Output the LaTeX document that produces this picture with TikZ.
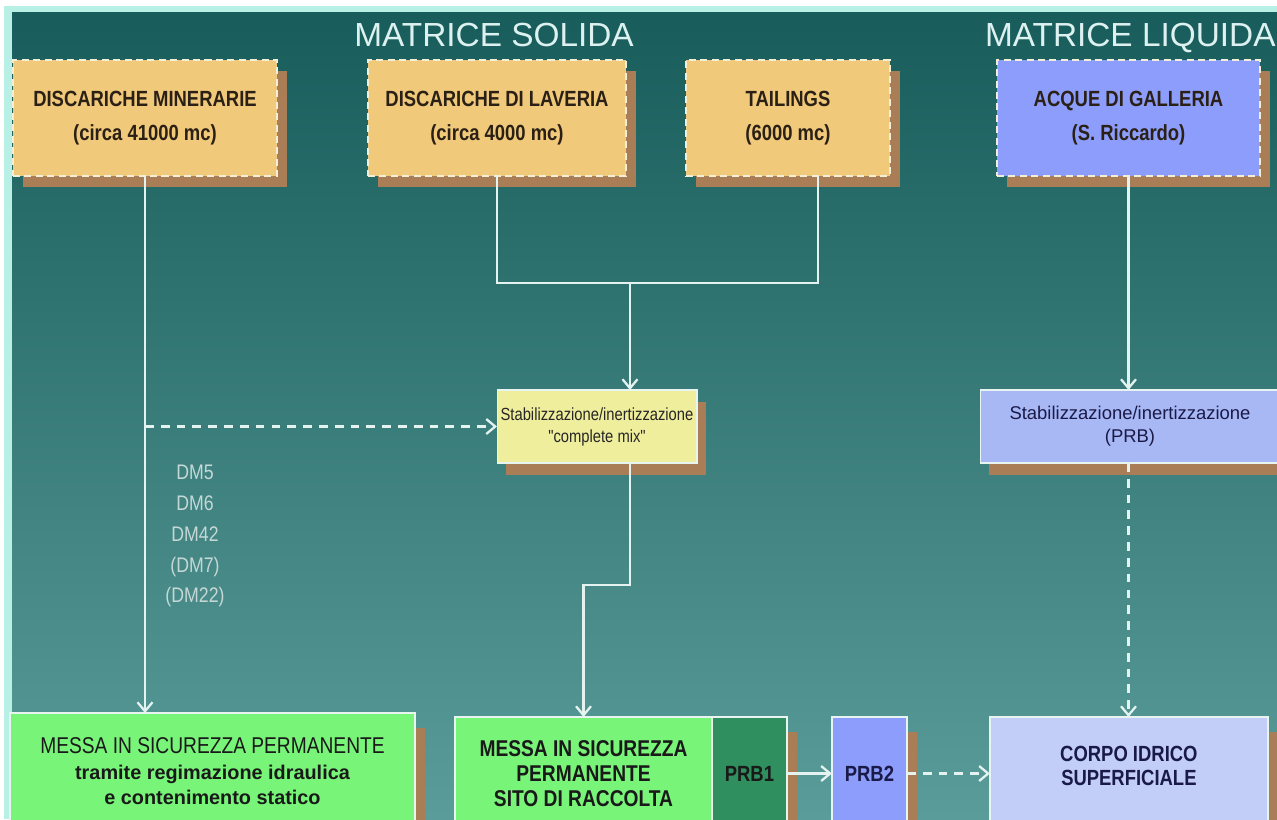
\documentclass[tikz,border=0pt]{standalone}
\usepackage{fontspec}
\setmainfont{Liberation Sans}[Ligatures=TeXOff]
\newfontfamily\narrowfont{Liberation Sans}[FakeStretch=0.84, Ligatures=TeXOff]
\usetikzlibrary{arrows.meta,positioning,shadows}

\definecolor{tealtop}{HTML}{185D5B}
\definecolor{tealbot}{HTML}{5A9C99}
\definecolor{framecol}{HTML}{B8F0E6}
\definecolor{sand}{HTML}{F0C97A}
\definecolor{shadebrown}{HTML}{A97E56}
\definecolor{water}{HTML}{8C9DFB}
\definecolor{mixcol}{HTML}{EFEE9C}
\definecolor{prbcol}{HTML}{A8B8F5}
\definecolor{greenbox}{HTML}{78F478}
\definecolor{prbgreen}{HTML}{2F8F5E}
\definecolor{palewater}{HTML}{C3CEF8}
\definecolor{linecol}{HTML}{E4F2F0}
\definecolor{dashcol}{HTML}{F3EED8}
\definecolor{edgecol}{HTML}{E8F4F0}
\definecolor{titlecol}{HTML}{DDF2F0}
\definecolor{labelcol}{HTML}{C5D8D6}
\definecolor{boxtext}{HTML}{2B2015}
\definecolor{navytext}{HTML}{1A1A48}

\begin{document}
\begin{tikzpicture}[
    x=0.02cm, y=-0.02cm,
    every node/.style={inner sep=0pt, outer sep=0pt},
    title/.style={text=titlecol, font=\fontsize{19}{22}\selectfont},
    source/.style={draw=dashcol, dash pattern=on 4pt off 2.5pt, line width=1pt, minimum height=2.32cm, align=center, text=boxtext, font=\narrowfont\bfseries\fontsize{12.5}{19}\selectfont, general shadow={fill=shadebrown, shadow xshift=0.2cm, shadow yshift=-0.22cm}},
    treat/.style={draw=edgecol, line width=0.6pt, minimum height=1.46cm, align=center, general shadow={fill=shadebrown, shadow xshift=0.18cm, shadow yshift=-0.24cm}},
    target/.style={draw=edgecol, line width=0.8pt, minimum height=2.3cm, align=center, text=black!90, general shadow={fill=shadebrown, shadow xshift=0.2cm, shadow yshift=-0.3cm}},
    dmlabel/.style={text=labelcol, align=center, font=\narrowfont\fontsize{12}{17.6}\selectfont},
    flow/.style={draw=linecol, line width=1.3pt, -{Straight Barb[length=1.8mm, width=3mm]}},
    feedback/.style={flow, dash pattern=on 5pt off 4pt}
]
\useasboundingbox (0,0) rectangle (1277,819);
\fill[white] (0,0) rectangle (1277,819);
\fill[framecol] (4,6) rectangle (1277,819);
\shade[top color=tealtop, bottom color=tealbot] (12,12) rectangle (1277,819);

% titles
\node[title, anchor=base] (solida) at (494,46) {MATRICE SOLIDA};
\node[title, anchor=base west] (liquida) at (985,46) {MATRICE LIQUIDA};

% sources
\node[source, fill=sand, minimum width=5.28cm] (dm) at (145,118) {DISCARICHE MINERARIE\\(circa 41000 mc)};
\node[source, fill=sand, minimum width=5.16cm] (lav) at (497,118) {DISCARICHE DI LAVERIA\\(circa 4000 mc)};
\node[source, fill=sand, minimum width=4.08cm] (tail) at (788,118) {TAILINGS\\(6000 mc)};
\node[source, fill=water, minimum width=5.26cm] (acque) at (1128.5,118) {ACQUE DI GALLERIA\\(S. Riccardo)};

% treatments
\node[treat, fill=mixcol, minimum width=4cm, text=black!85, font=\narrowfont\fontsize{10}{12.5}\selectfont] (mix) at (597,426.5) {Stabilizzazione/inertizzazione\\"complete mix"};
\node[treat, fill=prbcol, minimum width=6cm, text=navytext, font=\fontsize{10.5}{13}\selectfont] (prbstab) at (1130,426.5) {Stabilizzazione/inertizzazione\\(PRB)};

\node[dmlabel] (dmlist) at (195,536) {DM5\\DM6\\DM42\\(DM7)\\(DM22)};

% targets
\node[target, fill=greenbox, minimum width=8.1cm, minimum height=2.34cm, font=\narrowfont\fontsize{13}{14.5}\selectfont] (messa1) at (212.5,771.5)
    {MESSA IN SICUREZZA PERMANENTE\\{\rmfamily\bfseries\fontsize{11.3}{14.5}\selectfont tramite regimazione idraulica}\\{\rmfamily\bfseries\fontsize{11.3}{14.5}\selectfont e contenimento statico}};
\node[target, fill=greenbox, minimum width=5.14cm, minimum height=2.26cm, font=\narrowfont\bfseries\fontsize{13}{14.2}\selectfont] (messa2) at (583.5,773.5) {MESSA IN SICUREZZA\\PERMANENTE\\SITO DI RACCOLTA};
\node[target, fill=prbgreen, minimum width=1.5cm, minimum height=2.26cm, font=\narrowfont\bfseries\fontsize{12.5}{12}\selectfont, right=0pt of messa2] (prb1) {PRB1};
\node[target, fill=water, minimum width=1.5cm, minimum height=2.26cm, text=navytext, font=\narrowfont\bfseries\fontsize{12.5}{12}\selectfont, right=0.9cm of prb1] (prb2) {PRB2};
\node[target, fill=palewater, minimum width=5.56cm, minimum height=2.26cm, text=navytext, font=\narrowfont\bfseries\fontsize{12.5}{14}\selectfont, right=1.66cm of prb2] (corpo) {CORPO IDRICO\\SUPERFICIALE\\[-0.18cm]};

% connectors
\draw[flow] (dm.south) -- (dm.south |- messa1.north);
\draw[feedback] (dm.south |- mix.west) -- (mix.west);
\coordinate (join) at (630,283);
\coordinate (tailout) at ([xshift=0.6cm]tail.south);
\draw[draw=linecol, line width=1.3pt] (lav.south) |- (join) -| (tailout);
\draw[flow] (join) -- (join |- mix.north);
\coordinate (mixout) at ([xshift=0.66cm]mix.south);
\draw[flow] (mixout) -- ++(0,122) -| (messa2.north);
\draw[flow] (acque.south) -- (acque.south |- prbstab.north);
\draw[feedback] (acque.south |- prbstab.south) -- (acque.south |- corpo.north);
\draw[flow] (prb1.east) -- (prb2.west);
\draw[feedback] (prb2.east) -- (corpo.west);
\end{tikzpicture}
\end{document}
